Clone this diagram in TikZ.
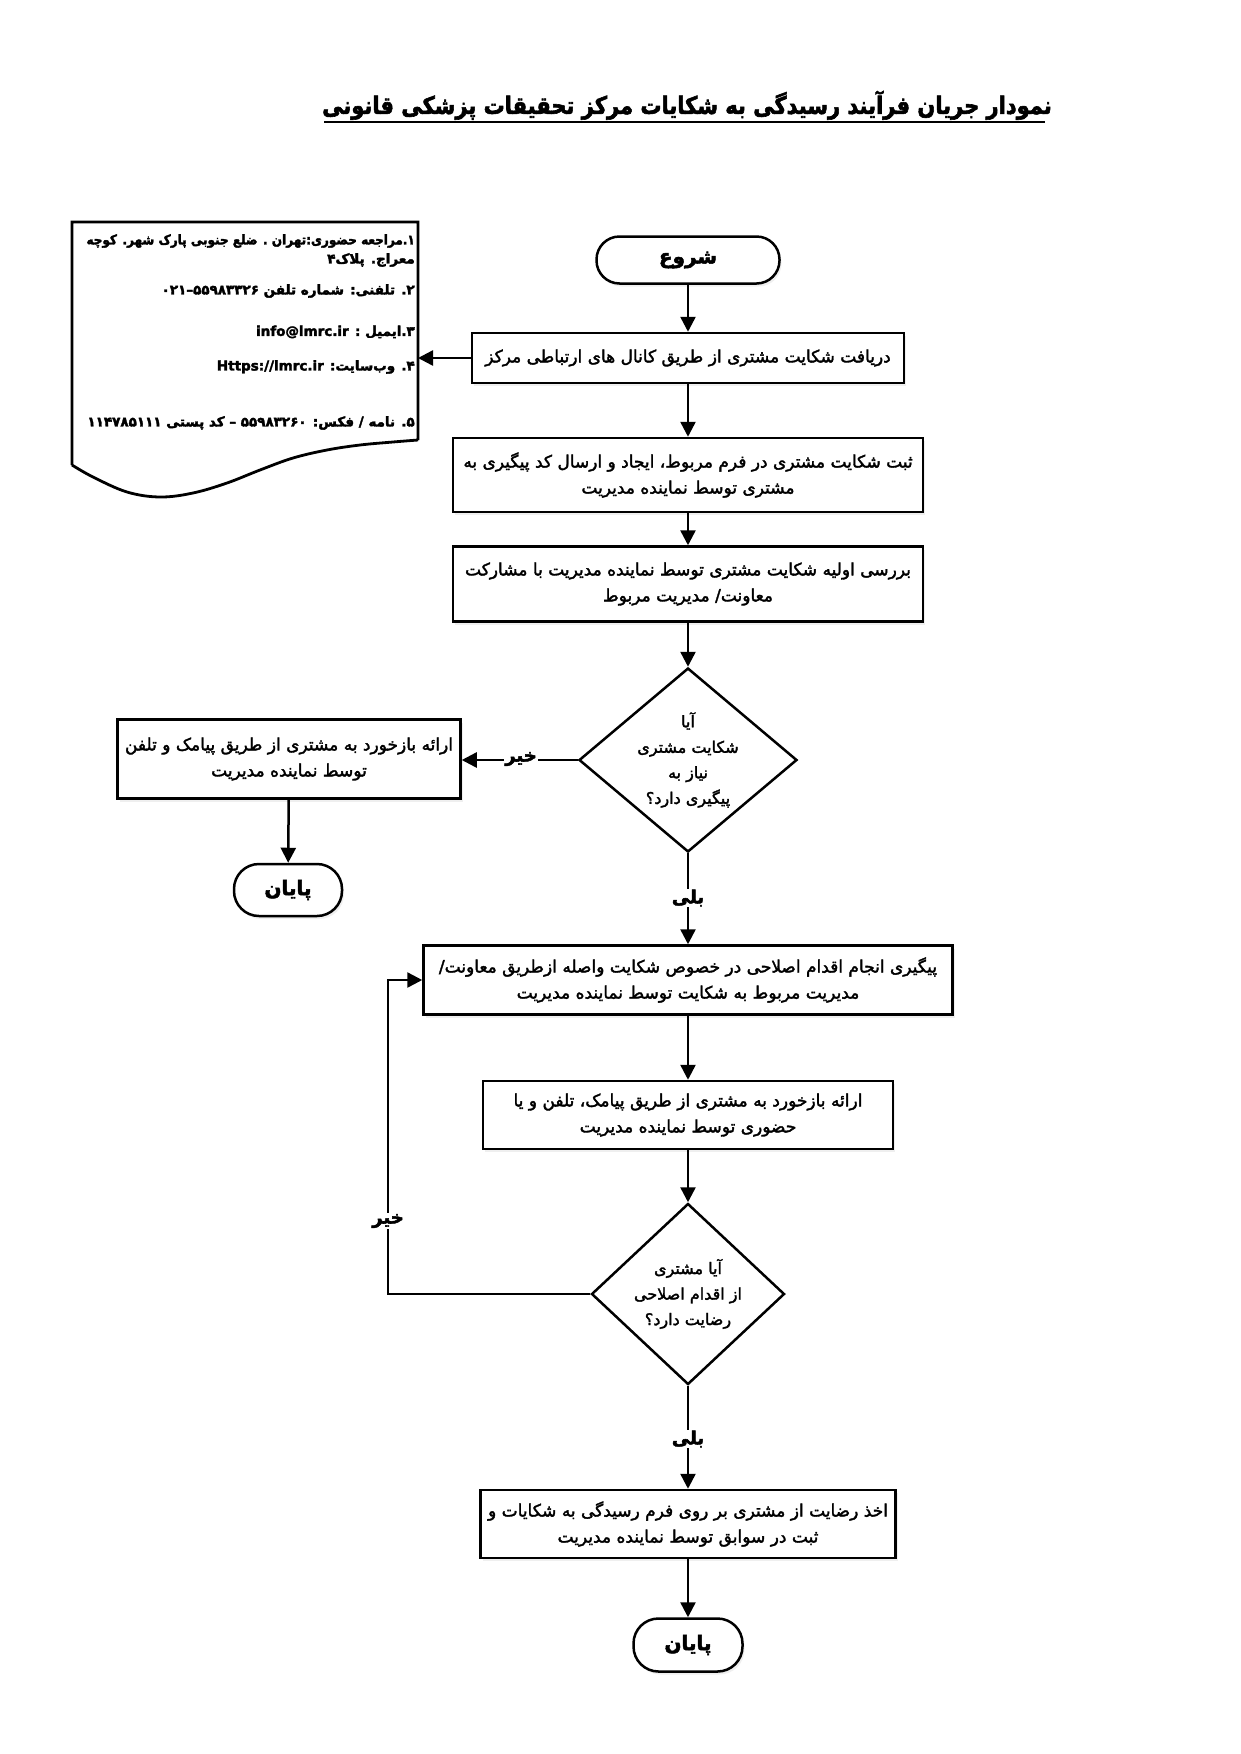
\documentclass[tikz,border=0pt]{standalone}
\usepackage{fontspec}
\newfontfamily\fa[Script=Arabic]{DejaVu Sans}
\newfontfamily\fabx[Script=Arabic,FakeBold=2]{DejaVu Sans}
\newfontfamily\fahv[Script=Arabic,BoldFeatures={FakeBold=2.5}]{DejaVu Sans}
\TeXXeTstate=1
\newcommand{\rl}[1]{\beginR #1\endR}
\usetikzlibrary{arrows.meta,shapes.geometric,shadows}
\tikzset{
  proc/.style={draw, line width=2.5pt, fill=white, align=center, inner sep=0pt,
    font=\fabx\fontsize{17}{26}\selectfont,
    drop shadow={shadow xshift=2pt, shadow yshift=-3pt, fill=black!12}},
  term/.style={draw, line width=2.5pt, fill=white, inner sep=0pt,
    font=\fahv\bfseries\fontsize{20}{24}\selectfont,
    drop shadow={shadow xshift=2pt, shadow yshift=-3pt, fill=black!12}},
  dec/.style={draw, diamond, line width=2.5pt, fill=white, inner sep=0pt},
  dtext/.style={align=center, inner sep=0pt, font=\fabx\fontsize{16}{25.5}\selectfont},
  flow/.style={line width=2.5pt, -{Triangle[width=15pt,length=15pt]}},
  lbl/.style={fill=white, inner sep=1pt, font=\fahv\bfseries\fontsize{18}{20}\selectfont},
  docline/.style={anchor=east, inner sep=0pt, font=\fahv\bfseries\fontsize{13.5}{16}\selectfont},
}
\begin{document}
\begin{tikzpicture}[x=1pt,y=-1pt]
\useasboundingbox (0,0) rectangle (1240,1754);
\fill[white] (0,0) rectangle (1240,1754);

% title
\node[inner sep=0pt, anchor=south, font=\fahv\bfseries\fontsize{21}{26}\selectfont]
  (title) at (687,120) {\scalebox{1}[1.15]{\rl{نمودار جریان فرآیند رسیدگی به شکایات مرکز تحقیقات پزشکی قانونی}}};
\draw[line width=2pt] (324,122) -- (1045,122);

% document shape
\draw[line width=2.8pt, fill=white] (418,440) -- (418,222) -- (72,222) -- (72,465)
  plot[smooth, tension=0.6] coordinates {(72,465) (93,477) (127,492) (160,497) (193,493) (227,483) (260,470) (293,458) (327,450) (360,445) (393,442) (418,440)};
\coordinate (docR) at (418,358);
\node[docline] (l1) at (415,241) {\scalebox{0.89}[1]{\rl{۱.مراجعه حضوری:تهران . ضلع جنوبی پارک شهر. کوچه}}};
\node[docline] (l2) at (415,260) {\rl{معراج. پلاک۴}};
\node[docline] (l3) at (415,291) {\rl{۲. تلفنی: شماره تلفن \hbox{۵۵۹۸۳۳۲۶}\hbox{–}\hbox{۰۲۱}}};
\node[docline] (l4) at (415,332) {\rl{۳.ایمیل : info@lmrc.ir}};
\node[docline] (l5) at (415,367) {\rl{۴. وب‌سایت:  Https://lmrc.ir}};
\node[docline] (l6) at (415,423) {\rl{۵. نامه / فکس:  ۵۵۹۸۳۲۶۰ – کد پستی ۱۱۴۷۸۵۱۱۱}};

% main flow
\node[term, rounded corners=23pt, minimum width=183pt, minimum height=47pt] (start) at (688,260) {\rl{شروع}};
\node[proc, minimum width=432pt, minimum height=50pt] (b1) at (688,358)
  {\rl{دریافت شکایت مشتری از طریق کانال های ارتباطی مرکز}};
\node[proc, minimum width=470pt, minimum height=74pt] (b2) at (688,475)
  {\rl{ثبت شکایت مشتری در فرم مربوط، ایجاد و ارسال کد پیگیری به}\\\rl{مشتری توسط نماینده مدیریت}};
\node[proc, minimum width=470pt, minimum height=75pt] (b3) at (688,584)
  {\rl{بررسی اولیه شکایت مشتری توسط نماینده مدیریت با مشارکت}\\\rl{معاونت/ مدیریت مربوط}};
\node[dec, minimum width=218pt, minimum height=184pt] (d1) at (688,760) {};
\node[dtext] (d1t) at (688,760)
  {\rl{آیا}\\\rl{شکایت مشتری}\\\rl{نیاز به}\\\rl{پیگیری دارد؟}};
\node[proc, minimum width=343pt, minimum height=79pt] (lb) at (289,759)
  {\rl{ارائه بازخورد به مشتری از طریق پیامک و تلفن}\\\rl{توسط نماینده مدیریت}};
\node[term, rounded corners=25pt, minimum width=108pt, minimum height=52pt] (end1) at (288,890) {\rl{پایان}};
\node[proc, minimum width=529pt, minimum height=69pt] (b4) at (688,980)
  {\rl{پیگیری انجام اقدام اصلاحی در خصوص شکایت واصله ازطریق معاونت/}\\\rl{مدیریت مربوط به شکایت توسط نماینده مدیریت}};
\node[proc, minimum width=410pt, minimum height=68pt] (b5) at (688,1115)
  {\rl{ارائه بازخورد به مشتری از طریق پیامک، تلفن و یا}\\\rl{حضوری توسط نماینده مدیریت}};
\node[dec, minimum width=193pt, minimum height=181pt] (d2) at (688,1294) {};
\node[dtext] (d2t) at (688,1294)
  {\rl{آیا مشتری}\\\rl{از اقدام اصلاحی}\\\rl{رضایت دارد؟}};
\node[proc, minimum width=415pt, minimum height=68pt] (b6) at (688,1524)
  {\rl{اخذ رضایت از مشتری بر روی فرم رسیدگی به شکایات و}\\\rl{ثبت در سوابق توسط نماینده مدیریت}};
\node[term, rounded corners=25pt, minimum width=109pt, minimum height=53pt] (end2) at (688,1645) {\rl{پایان}};

% connectors
\draw[flow] (start) -- (b1);
\draw[flow] (b1.west) -- (docR);
\draw[flow] (b1) -- (b2);
\draw[flow] (b2) -- (b3);
\draw[flow] (b3) -- (d1);
\draw[flow] (d1.west) -- (d1.west -| lb.east);
\node[lbl] (no1) at (521,759) {\rl{خیر}};
\draw[flow] (lb) -- (end1);
\draw[flow] (d1.south) -- (b4.north);
\node[lbl] (yes1) at (688,898) {\rl{بلی}};
\draw[flow] (b4) -- (b5);
\draw[flow] (b5) -- (d2);
\coordinate (lp) at (388,1294);
\draw[flow] (d2.west) -- (lp) |- (b4.west);
\node[lbl] (no2) at (388,1221) {\rl{خیر}};
\draw[flow] (d2.south) -- (b6.north);
\node[lbl] (yes2) at (688,1439) {\rl{بلی}};
\draw[flow] (b6) -- (end2);
\end{tikzpicture}
\end{document}
